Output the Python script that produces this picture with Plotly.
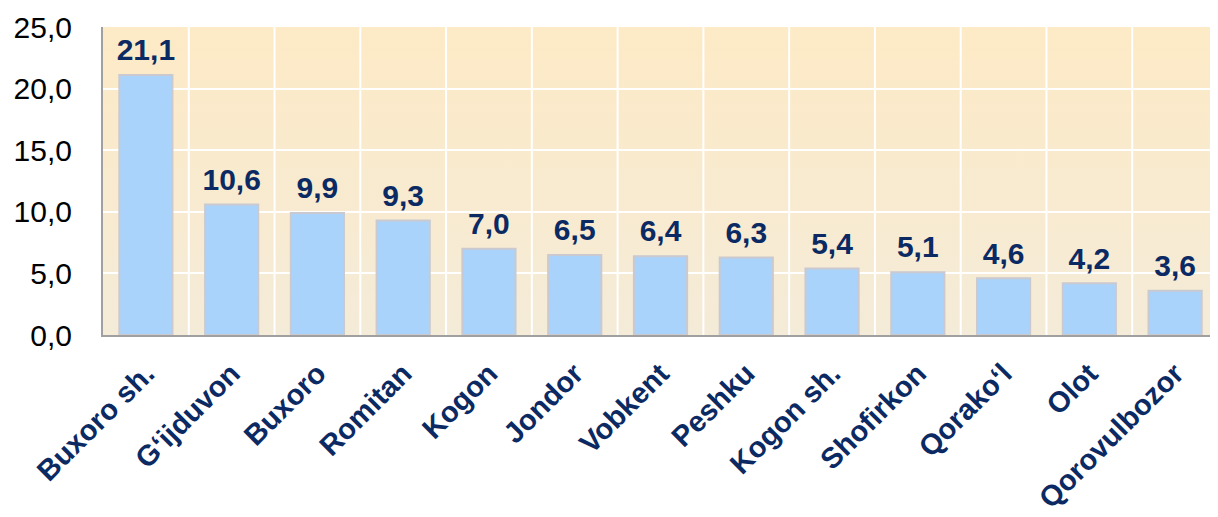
import base64
import plotly.graph_objects as go

# data
districts = ["Buxoro sh.", "G‘ijduvon", "Buxoro", "Romitan", "Kogon", "Jondor",
             "Vobkent", "Peshku", "Kogon sh.", "Shofirkon", "Qorako‘l", "Olot",
             "Qorovulbozor"]
values = [21.1, 10.6, 9.9, 9.3, 7.0, 6.5, 6.4, 6.3, 5.4, 5.1, 4.6, 4.2, 3.6]
y_ticks = [0, 5, 10, 15, 20, 25]

navy = "#0b2a63"

# soft peach gradient for the plot background
bg_svg = """<svg xmlns='http://www.w3.org/2000/svg' width='10' height='100' preserveAspectRatio='none'>
<defs><linearGradient id='g' x1='0' y1='0' x2='0' y2='1'>
<stop offset='0' stop-color='#fdeac6'/><stop offset='1' stop-color='#f4ebd8'/>
</linearGradient></defs><rect width='10' height='100' fill='url(#g)'/></svg>"""
bg_uri = "data:image/svg+xml;base64," + base64.b64encode(bg_svg.encode()).decode()

fig = go.Figure()

fig.add_trace(go.Bar(
    x=districts,
    y=values,
    marker=dict(color="#aad3fc", line=dict(color="#c9c9cf", width=2)),
    hoverinfo="x+y",
))

# value labels, lifted a little above the bar tops
fig.add_trace(go.Scatter(
    x=districts,
    y=values,
    mode="markers+text",
    marker=dict(size=10, color="rgba(0,0,0,0)"),
    texttemplate="%{y:.1f}",
    textposition="top center",
    cliponaxis=False,
    textfont=dict(family="Liberation Sans, Arial", size=30, color=navy, weight="bold"),
    hoverinfo="skip",
))

# the page body adds 8px of margin, so the figure is a bit smaller than the window
fig.update_layout(
    width=1210,
    height=509,
    margin=dict(l=95, r=0, t=19, b=182),
    paper_bgcolor="white",
    plot_bgcolor="rgba(0,0,0,0)",
    separators=", ",
    bargap=0.38,
    showlegend=False,
    font=dict(family="Liberation Sans, Arial", color="black"),
    images=[dict(source=bg_uri, xref="paper", yref="paper", x=0, y=1,
                 sizex=1, sizey=1, sizing="stretch", layer="below",
                 xanchor="left", yanchor="top")],
)

fig.update_yaxes(
    range=[0, 25],
    tickvals=y_ticks,
    tickformat=".1f",
    tickfont=dict(size=30, color="black"),
    showgrid=True,
    gridcolor="white",
    gridwidth=2,
    showline=True,
    linecolor="#a0a0a0",
    linewidth=2,
    ticks="",
    ticklabelstandoff=23,
    zeroline=False,
    automargin=False,
)

fig.update_xaxes(
    range=[-0.5, len(districts) - 0.5],
    tickangle=-45,
    tickfont=dict(size=29, color=navy, weight="bold"),
    showgrid=False,
    showline=True,
    linecolor="#a0a0a0",
    linewidth=2,
    ticks="",
    ticklabelstandoff=8,
    automargin=False,
)

# white vertical separators between categories
for i in range(len(districts) - 1):
    fig.add_vline(x=i + 0.5, line=dict(color="white", width=2), layer="below")

fig.write_html("out.html")
